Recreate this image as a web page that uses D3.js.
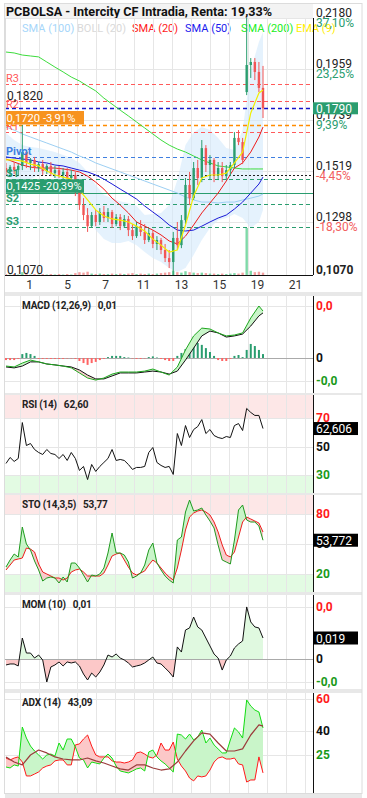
<!DOCTYPE html>
<html>
<head>
<meta charset="utf-8">
<script src="https://cdn.jsdelivr.net/npm/d3@7"></script>
<style>
  body { margin: 0; background: #fff; }
  svg { display: block; font-family: Roboto, "DejaVu Sans", sans-serif; }
</style>
</head>
<body>
<svg id="chart" width="367" height="798"></svg>
<script>
// =============================================================================
// DATA
// =============================================================================

const dayTicks = ['1', '5', '7', '11', '13', '15', '19', '21'];

// intraday candles [open, high, low, close]
const ohlc = [
  [0.1532,0.1554,0.1502,0.1515],[0.1515,0.1545,0.1497,0.1537],[0.1537,0.1558,0.1506,0.1523],
  [0.1523,0.1549,0.1497,0.1541],[0.1541,0.1718,0.1523,0.1601],[0.1601,0.1610,0.1532,0.1554],
  [0.1554,0.1575,0.1523,0.1567],[0.1567,0.1580,0.1515,0.1532],[0.1532,0.1558,0.1515,0.1549],
  [0.1549,0.1567,0.1502,0.1519],[0.1519,0.1549,0.1506,0.1541],[0.1541,0.1558,0.1497,0.1510],
  [0.1510,0.1541,0.1489,0.1523],[0.1523,0.1541,0.1489,0.1502],[0.1502,0.1532,0.1480,0.1515],
  [0.1515,0.1532,0.1471,0.1489],[0.1489,0.1523,0.1471,0.1502],[0.1502,0.1515,0.1411,0.1428],
  [0.1428,0.1446,0.1351,0.1372],[0.1372,0.1402,0.1307,0.1329],[0.1329,0.1359,0.1256,0.1281],
  [0.1281,0.1342,0.1273,0.1329],[0.1329,0.1351,0.1281,0.1299],[0.1299,0.1359,0.1286,0.1342],
  [0.1342,0.1368,0.1299,0.1316],[0.1316,0.1359,0.1299,0.1342],[0.1342,0.1351,0.1273,0.1290],
  [0.1290,0.1333,0.1281,0.1320],[0.1320,0.1333,0.1264,0.1281],[0.1281,0.1329,0.1273,0.1312],
  [0.1312,0.1325,0.1238,0.1264],[0.1264,0.1290,0.1221,0.1238],[0.1238,0.1299,0.1230,0.1281],
  [0.1281,0.1307,0.1238,0.1256],[0.1256,0.1290,0.1204,0.1221],[0.1221,0.1273,0.1212,0.1251],
  [0.1251,0.1264,0.1186,0.1204],[0.1204,0.1238,0.1178,0.1221],[0.1221,0.1230,0.1160,0.1178],
  [0.1178,0.1204,0.1126,0.1143],[0.1143,0.1178,0.1100,0.1126],[0.1126,0.1256,0.1070,0.1230],
  [0.1230,0.1299,0.1178,0.1199],[0.1199,0.1329,0.1186,0.1307],[0.1307,0.1489,0.1290,0.1459],
  [0.1459,0.1515,0.1372,0.1402],[0.1402,0.1558,0.1394,0.1532],[0.1532,0.1567,0.1459,0.1489],
  [0.1489,0.1653,0.1471,0.1618],[0.1618,0.1631,0.1515,0.1545],[0.1545,0.1588,0.1480,0.1567],
  [0.1567,0.1575,0.1471,0.1502],[0.1502,0.1558,0.1480,0.1532],[0.1532,0.1558,0.1471,0.1497],
  [0.1497,0.1545,0.1480,0.1523],[0.1523,0.1558,0.1497,0.1545],[0.1545,0.1687,0.1532,0.1662],
  [0.1662,0.1696,0.1631,0.1644],[0.1644,0.1662,0.1549,0.1567],[0.1860,0.2180,0.1847,0.1977],
  [0.1977,0.2007,0.1921,0.1990],[0.1990,0.2007,0.1912,0.1947],[0.1947,0.1990,0.1860,0.1878],
  [0.1878,0.1973,0.1748,0.1790]
];

const volume = [2,1,2,1,6,2,1,2,1,2,1,2,1,2,1,2,1,4,6,5,7,3,2,3,2,2,3,2,3,2,3,4,
  2,3,2,3,2,3,4,5,6,9,6,5,8,6,5,4,5,4,3,3,2,3,2,3,4,3,5,100,9,6,7,5];

// moving averages, sampled every second bar plus the last one
const sma200 = [0.2033,0.2029,0.2020,0.2016,0.2012,0.1990,0.1968,0.1947,0.1925,0.1908,0.1886,
  0.1865,0.1834,0.1808,0.1782,0.1757,0.1731,0.1705,0.1679,0.1653,0.1631,0.1614,0.1601,0.1584,
  0.1567,0.1554,0.1541,0.1537,0.1532,0.1528,0.1528,0.1528,0.1528];
const sma100 = [0.1709,0.1696,0.1679,0.1666,0.1653,0.1640,0.1627,0.1614,0.1601,0.1584,0.1571,
  0.1554,0.1541,0.1528,0.1515,0.1502,0.1489,0.1476,0.1463,0.1450,0.1437,0.1424,0.1407,0.1394,
  0.1385,0.1385,0.1381,0.1385,0.1385,0.1394,0.1402,0.1411,0.1420];
const sma50 = [0.1580,0.1575,0.1571,0.1567,0.1558,0.1554,0.1545,0.1541,0.1532,0.1523,0.1515,
  0.1502,0.1484,0.1463,0.1441,0.1420,0.1398,0.1368,0.1342,0.1316,0.1286,0.1264,0.1260,0.1264,
  0.1281,0.1299,0.1316,0.1329,0.1355,0.1385,0.1424,0.1463,0.1493];
const sma20 = [0.1571,0.1558,0.1545,0.1536,0.1532,0.1532,0.1532,0.1528,0.1523,0.1515,0.1497,
  0.1471,0.1441,0.1402,0.1372,0.1338,0.1299,0.1281,0.1264,0.1243,0.1217,0.1204,0.1238,0.1286,
  0.1338,0.1381,0.1424,0.1476,0.1532,0.1554,0.1601,0.1666,0.1709];
const ema9 = [0.1567,0.1567,0.1562,0.1549,0.1541,0.1519,0.1502,0.1493,0.1484,0.1437,0.1394,
  0.1351,0.1325,0.1312,0.1307,0.1299,0.1281,0.1260,0.1225,0.1199,0.1169,0.1178,0.1286,0.1411,
  0.1489,0.1502,0.1502,0.1510,0.1554,0.1601,0.1770,0.1856,0.1869];
const bollUp = [0.1683,0.1653,0.1631,0.1623,0.1618,0.1610,0.1601,0.1588,0.1575,0.1554,0.1515,
  0.1459,0.1415,0.1402,0.1389,0.1381,0.1368,0.1329,0.1333,0.1338,0.1372,0.1480,0.1631,0.1687,
  0.1709,0.1696,0.1662,0.1618,0.1610,0.1696,0.1955,0.2076,0.2120];
const bollLow = [0.1493,0.1480,0.1480,0.1484,0.1502,0.1510,0.1489,0.1467,0.1437,0.1402,0.1329,
  0.1264,0.1225,0.1208,0.1208,0.1217,0.1199,0.1169,0.1143,0.1126,0.1100,0.1083,0.1100,0.1156,
  0.1221,0.1273,0.1307,0.1316,0.1333,0.1316,0.1273,0.1299,0.1351];

// price axis
const priceTicks = [0.2180, 0.1959, 0.1739, 0.1519, 0.1298, 0.1070];
const priceTickPct = ['37,10%', '23,25%', '9,39%', '-4,45%', '-18,30%', ''];
const lastPrice = 0.1790;
const rangeMarks = [0.1820, 0.1070];
const levelNames = ['R3', 'R2', 'R1', 'Pivot', 'S1', 'S2', 'S3'];
const levelValues = [0.1895, 0.1821, 0.1689, 0.1580, 0.1483, 0.1377, 0.1277];
const refLine = 0.1503;
const boxValues = [0.1720, 0.1425];
const boxPct = ['-3,91%', '-20,39%'];

const legendNames = ['SMA (100)', 'BOLL (20)', 'SMA (20)', 'SMA (50)', 'SMA (200)', 'EMA (9)'];

// indicators
const indTitles = ['MACD (12,26,9)', 'RSI (14)', 'STO (14,3,5)', 'MOM (10)', 'ADX (14)'];
const indValues = ['0,01', '62,60', '53,77', '0,01', '43,09'];

const macdLine = [-0.0035,-0.0039,-0.0022,-0.0009,-0.0017,-0.0026,-0.0030,-0.0035,-0.0043,-0.0065,
  -0.0087,-0.0096,-0.0087,-0.0070,-0.0061,-0.0061,-0.0061,-0.0057,-0.0048,-0.0061,-0.0074,-0.0039,
  0.0035,0.0096,0.0130,0.0126,0.0109,0.0096,0.0100,0.0109,0.0174,0.0226,0.0204];
const macdSignal = [-0.0039,-0.0043,-0.0035,-0.0017,-0.0017,-0.0026,-0.0030,-0.0035,-0.0039,-0.0052,
  -0.0074,-0.0091,-0.0091,-0.0078,-0.0065,-0.0065,-0.0065,-0.0061,-0.0057,-0.0061,-0.0070,-0.0057,
  -0.0009,0.0043,0.0096,0.0117,0.0109,0.0091,0.0096,0.0104,0.0139,0.0183,0.0196];
const macdHist = [-0.0009,-0.0009,-0.0009,-0.0004,0.0017,0.0022,0.0017,0.0009,-0.0004,-0.0004,
  -0.0004,-0.0004,-0.0004,-0.0004,-0.0004,-0.0002,-0.0002,-0.0004,-0.0013,-0.0022,-0.0030,-0.0022,
  -0.0017,-0.0009,-0.0004,0.0004,0.0009,0.0009,0.0009,0.0004,0.0002,-0.0002,-0.0004,-0.0004,
  -0.0002,0.0004,0.0007,0.0002,-0.0004,-0.0009,-0.0013,-0.0013,0.0009,0.0022,0.0039,0.0052,
  0.0061,0.0065,0.0057,0.0043,0.0026,0.0009,-0.0009,-0.0013,-0.0013,-0.0004,0.0009,0.0013,
  0.0004,0.0035,0.0061,0.0052,0.0035,0.0017];
const macdTicks = [0.0226, 0, -0.0100];
const macdTickLabels = ['0,0', '0', '-0,0'];

const rsi = [38.1,42.3,39.5,41.6,66.8,50.7,52.1,47.9,45.8,44.4,47.9,45.1,44.4,41.6,44.4,40.2,
  45.8,41.6,33.2,36.0,26.8,37.4,32.5,36.0,38.8,41.6,47.9,40.2,40.9,40.2,37.4,33.9,35.3,35.3,
  36.0,45.8,49.3,38.8,36.7,35.3,36.0,30.4,59.1,50.7,64.7,56.3,61.9,64.0,68.9,59.1,61.9,57.7,
  56.3,55.6,57.0,56.3,64.7,66.1,61.2,76.7,73.9,71.8,71.8,62.606];
const rsiTicks = [70, 50, 30];

const stoK = [27,34,40,37,67,50,44,33,24,13,16,17,16,11,17,12,31,31,26,19,12,19,18,20,26,41,
  61,41,41,39,32,16,18,21,29,44,51,31,24,18,14,11,54,57,82,94,83,84,86,79,73,66,49,34,32,30,
  54,84,89,74,72,72,68,53.772];
const stoD = [24,29,34,35,36,46,45,42,30,22,20,18,16,16,14,16,22,24,25,22,18,18,18,18,21,29,
  38,40,41,34,27,21,19,21,23,29,34,31,26,21,17,14,26,44,64,77,81,83,84,82,79,72,62,49,39,37,
  42,57,72,77,75,73,71,62];
const stoTicks = [80, 50, 20];

const mom = [-0.0054,-0.0045,-0.0045,-0.0063,0.0190,0.0054,0.0054,0.0009,0.0036,-0.0009,
  -0.0208,-0.0072,-0.0054,-0.0027,-0.0063,-0.0027,-0.0036,-0.0027,-0.0063,-0.0136,-0.0190,
  -0.0127,-0.0163,-0.0118,-0.0054,0.0036,0.0018,0.0045,0.0009,-0.0009,-0.0036,-0.0072,-0.0063,
  -0.0054,-0.0036,-0.0009,0.0018,-0.0036,-0.0045,-0.0081,-0.0118,-0.0163,0.0109,0.0063,0.0262,
  0.0281,0.0380,0.0290,0.0262,0.0190,0.0118,0.0045,0.0009,-0.0100,-0.0009,0.0027,0.0100,0.0136,
  0.0163,0.0471,0.0335,0.0290,0.0281,0.0190];
const momTicks = [0.047, 0, -0.021];
const momTickLabels = ['0,0', '0', '-0,0'];

const diPlus = [17.5,16.9,18.8,18.1,42.5,35.6,30.6,27.5,25.0,22.5,25.0,25.6,24.4,32.5,28.1,35.0,
  35.0,30.0,23.1,21.9,16.9,20.6,20.0,19.4,23.1,25.6,23.1,18.1,15.0,14.4,13.8,15.0,16.3,16.9,
  15.0,26.9,28.1,23.8,21.3,19.4,16.9,14.4,38.1,37.5,35.0,38.1,34.4,36.3,40.6,32.5,35.6,31.3,
  28.8,26.3,26.3,34.4,41.9,39.4,35.6,59.4,55.6,53.1,51.9,41.9];
const diMinus = [23.1,21.9,23.1,23.8,20.6,11.9,11.9,13.1,14.4,16.9,18.1,18.8,21.3,21.9,21.9,18.8,
  18.8,31.3,31.9,35.0,37.5,30.6,25.0,23.8,23.8,23.8,21.3,20.6,20.6,20.0,20.6,21.9,26.3,26.9,
  25.6,23.8,23.1,25.0,32.5,28.1,28.1,33.1,22.5,18.1,15.0,10.6,8.8,11.9,11.3,11.9,15.6,20.6,
  23.1,23.8,22.5,22.5,23.1,19.4,18.8,8.1,9.4,9.4,23.8,13.8];
const adx = [23.8,20.6,18.8,25.0,28.1,26.3,23.8,22.5,21.9,21.9,23.1,21.3,20.0,18.1,16.3,15.6,
  18.8,18.8,16.9,15.6,16.3,20.6,27.5,33.8,38.8,38.1,32.5,27.5,27.5,28.8,37.5,43.8,43.09];
const adxTicks = [60, 40, 25];

// =============================================================================
// LAYOUT
// =============================================================================

const PLOT_L = 5;
const PLOT_R = 313;
const FRAME_R = 362;
const MAIN_TOP = 4;
const MAIN_BOTTOM = 275;

const GREEN = '#2a9d6f';
const RED = '#f25555';
const GRID = '#e6e6e6';

const PANELS = [
  { top: 296, bottom: 393 },
  { top: 395, bottom: 493 },
  { top: 495, bottom: 592 },
  { top: 595, bottom: 689 },
  { top: 693, bottom: 793 }
];

const fmt = (v, d) => d3.format(`.${d}f`)(v).replace('.', ',');

const svg = d3.select('#chart');
const defs = svg.append('defs');

// bar index -> x, trading day -> x
const barIdx = d3.range(ohlc.length);
const maIdx = [...d3.range(0, ohlc.length, 2), ohlc.length - 1];
const xBar = d3.scaleLinear().domain([0, ohlc.length - 1]).range([6, 263]);
const xDay = d3.scaleLinear().domain([0, 16]).range([1, 305]);

const yPrice = d3.scaleLinear().domain([0.1070, 0.2180]).range([MAIN_BOTTOM, 18]);
const yVol = d3.scaleLinear().domain([0, 100]).range([MAIN_BOTTOM, 228]);

// =============================================================================
// HELPERS
// =============================================================================

function clipRect(id, x, y, w, h) {
  defs.append('clipPath').attr('id', id)
    .append('rect').attr('x', x).attr('y', y).attr('width', w).attr('height', h);
}

function vGrid(g, top, bottom) {
  g.selectAll('line.vg').data(d3.range(1, 17)).join('line')
    .attr('class', 'vg')
    .attr('x1', d => Math.round(xDay(d)) + 0.5).attr('x2', d => Math.round(xDay(d)) + 0.5)
    .attr('y1', top).attr('y2', bottom)
    .attr('stroke', GRID);
}

function hLine(g, y, color, dash, width) {
  g.append('line')
    .attr('x1', PLOT_L).attr('x2', PLOT_R)
    .attr('y1', Math.round(y) + 0.5).attr('y2', Math.round(y) + 0.5)
    .attr('stroke', color).attr('stroke-width', width || 1)
    .attr('stroke-dasharray', dash || null);
}

function linePath(g, idx, values, y, color, width) {
  const line = d3.line().x((d, i) => xBar(idx[i])).y(d => y(d));
  g.append('path').attr('d', line(values))
    .attr('fill', 'none').attr('stroke', color).attr('stroke-width', width || 1)
    .attr('stroke-linejoin', 'round');
}

// fill between series a and b, one colour where a > b, another where a < b
function fillBetween(g, id, idx, a, b, y, colUp, colDown, top, bottom) {
  const pts = idx.map((t, i) => ({ x: xBar(t), a: y(a[i]), b: y(b[i]) }));
  defs.append('clipPath').attr('id', id + '-up').append('path')
    .attr('d', d3.area().x(d => d.x).y0(top).y1(d => d.b)(pts));
  defs.append('clipPath').attr('id', id + '-dn').append('path')
    .attr('d', d3.area().x(d => d.x).y0(bottom).y1(d => d.b)(pts));
  const band = d3.area().x(d => d.x).y0(d => d.b).y1(d => d.a)(pts);
  g.append('path').attr('d', band).attr('fill', colUp).attr('clip-path', `url(#${id}-up)`);
  g.append('path').attr('d', band).attr('fill', colDown).attr('clip-path', `url(#${id}-dn)`);
}

function rightTicks(g, ticks, labels, y, colors) {
  ticks.forEach((t, i) => {
    g.append('text')
      .attr('x', PLOT_R + 3).attr('y', y(t) + 4)
      .attr('font-size', 12).attr('font-weight', 'bold')
      .attr('fill', colors[i])
      .text(labels[i]);
  });
}

function valueBox(g, v, y, label) {
  const cy = y(v);
  g.append('rect').attr('x', PLOT_R).attr('y', cy - 6.5).attr('width', 45).attr('height', 13)
    .attr('fill', '#000');
  g.append('text').attr('x', PLOT_R + 3).attr('y', cy + 4.5)
    .attr('font-size', 12).attr('fill', '#fff').text(label);
}

function panelTitle(g, top, i) {
  const t = g.append('text').attr('x', 22).attr('y', top + 13)
    .attr('font-size', 10).attr('font-weight', 'bold').attr('fill', '#222')
    .attr('letter-spacing', -0.2)
    .text(indTitles[i]);
  const w = t.node().getComputedTextLength();
  g.append('text').attr('x', 22 + w + 7).attr('y', top + 13)
    .attr('font-size', 10).attr('font-weight', 'bold').attr('fill', '#222')
    .attr('letter-spacing', -0.2)
    .text(indValues[i]);
}

// =============================================================================
// FRAME, TITLE, LEGEND
// =============================================================================

svg.append('rect').attr('x', 0).attr('y', 0).attr('width', 367).attr('height', 798).attr('fill', '#fff');

// separators between panels
[[MAIN_BOTTOM + 17, 296], [393, 395], [493, 495], [592, 595], [689, 693], [793, 798]].forEach(([a, b]) => {
  svg.append('rect').attr('x', PLOT_L).attr('y', a).attr('width', FRAME_R - PLOT_L).attr('height', b - a)
    .attr('fill', '#e8e8e8');
});

svg.append('rect').attr('x', PLOT_L).attr('y', 4).attr('width', PLOT_R - PLOT_L).attr('height', 15)
  .attr('fill', '#f3f3f3');

svg.append('text').attr('x', 6).attr('y', 16)
  .attr('font-size', 12.6).attr('font-weight', 'bold').attr('fill', '#111')
  .text('PCBOLSA - Intercity CF Intradia, Renta: 19,33%');

const legendColors = ['#a6d6fa', '#d9d9d9', '#ff1a1a', '#1a1aee', '#22ee22', '#ffee00'];
const legendX = [22, 77, 132, 185, 241, 296];
legendNames.forEach((n, i) => {
  svg.append('text').attr('x', legendX[i]).attr('y', 32)
    .attr('font-size', 11).attr('fill', legendColors[i]).text(n);
});

// =============================================================================
// MAIN PRICE CHART
// =============================================================================

clipRect('clip-main', PLOT_L, MAIN_TOP, PLOT_R - PLOT_L, MAIN_BOTTOM - MAIN_TOP);
const gMain = svg.append('g').attr('clip-path', 'url(#clip-main)');

vGrid(gMain, 18, MAIN_BOTTOM);
priceTicks.slice(0, -1).forEach(p => hLine(gMain, yPrice(p), GRID));

// bollinger band
gMain.append('path')
  .attr('d', d3.area().x((d, i) => xBar(maIdx[i])).y0((d, i) => yPrice(bollLow[i])).y1(d => yPrice(d))(bollUp))
  .attr('fill', '#d3eafb').attr('opacity', 0.6);

// volume
gMain.selectAll('rect.vol').data(volume).join('rect')
  .attr('class', 'vol')
  .attr('x', (d, i) => xBar(i) - 1.2).attr('width', 2.4)
  .attr('y', d => yVol(d)).attr('height', d => MAIN_BOTTOM - yVol(d))
  .attr('fill', (d, i) => ohlc[i][3] >= ohlc[i][0] ? '#7fd9a8' : '#f5a0a0');

// levels
levelNames.forEach((n, i) => {
  const c = n[0] === 'R' ? '#ff5a5a' : n[0] === 'P' ? '#3f7fe0' : '#2a9d6f';
  hLine(gMain, yPrice(levelValues[i]), c, '4,3');
});
hLine(gMain, yPrice(lastPrice), '#1414c8', '4,3', 1.3);
hLine(gMain, yPrice(boxValues[0]), '#ff8c00', '4,3', 1.3);
hLine(gMain, yPrice(refLine), '#222', '2,2');
hLine(gMain, yPrice(boxValues[1]), '#2a9d6f', null, 1.2);

// moving averages
linePath(gMain, maIdx, sma200, yPrice, '#3ddc3d', 1);
linePath(gMain, maIdx, sma100, yPrice, '#9ccff3', 1);
linePath(gMain, maIdx, sma50, yPrice, '#1a1ad6', 1);
linePath(gMain, maIdx, sma20, yPrice, '#ee1c1c', 1);

// candles
const bodyW = 2.4;
gMain.selectAll('line.wick').data(ohlc).join('line')
  .attr('class', 'wick')
  .attr('x1', (d, i) => xBar(i)).attr('x2', (d, i) => xBar(i))
  .attr('y1', d => yPrice(d[1])).attr('y2', d => yPrice(d[2]))
  .attr('stroke', d => d[3] >= d[0] ? GREEN : RED).attr('stroke-width', 1);
gMain.selectAll('rect.body').data(ohlc).join('rect')
  .attr('class', 'body')
  .attr('x', (d, i) => xBar(i) - bodyW / 2).attr('width', bodyW)
  .attr('y', d => yPrice(Math.max(d[0], d[3])))
  .attr('height', d => Math.max(1, Math.abs(yPrice(d[0]) - yPrice(d[3]))))
  .attr('fill', d => d[3] >= d[0] ? GREEN : RED);

linePath(gMain, maIdx, ema9, yPrice, '#f2ee00', 1.2);

// level labels on the left
const taken = [yPrice(rangeMarks[0]) - 1];
levelNames.forEach((n, i) => {
  const y = yPrice(levelValues[i]);
  let base = y - 2;
  if (taken.some(t => Math.abs(t - base) < 9)) base = y + 7;
  taken.push(base);
  const c = n[0] === 'R' ? '#ff5a5a' : n[0] === 'P' ? '#3f7fe0' : '#2a9d6f';
  gMain.append('text').attr('x', PLOT_L + 1).attr('y', base)
    .attr('font-size', 11).attr('font-weight', n[0] === 'R' ? 'normal' : 'bold')
    .attr('fill', c).text(n);
});

rangeMarks.forEach(v => {
  gMain.append('text').attr('x', 7).attr('y', yPrice(v) - 1)
    .attr('font-size', 12).attr('fill', '#222').text(fmt(v, 4));
});

// boxes with value and change
const boxColors = ['#f7931e', '#2a9d6f'];
boxValues.forEach((v, i) => {
  const y = yPrice(v);
  gMain.append('rect').attr('x', PLOT_L).attr('y', y - 13.5).attr('width', 79).attr('height', 13.5)
    .attr('fill', boxColors[i]);
  gMain.append('text').attr('x', PLOT_L + 1.5).attr('y', y - 2.8)
    .attr('font-size', 11.2).attr('fill', '#fff').text(fmt(v, 4));
  gMain.append('text').attr('x', PLOT_L + 38).attr('y', y - 2.8)
    .attr('font-size', 11.2).attr('fill', '#fff').text(boxPct[i]);
});

// axes lines
svg.append('line').attr('x1', PLOT_L).attr('x2', PLOT_R)
  .attr('y1', MAIN_BOTTOM + 0.5).attr('y2', MAIN_BOTTOM + 0.5).attr('stroke', '#111');
svg.append('line').attr('x1', PLOT_R + 0.5).attr('x2', PLOT_R + 0.5)
  .attr('y1', 18).attr('y2', MAIN_BOTTOM).attr('stroke', '#111');
svg.append('line').attr('x1', PLOT_L + 0.5).attr('x2', PLOT_L + 0.5)
  .attr('y1', 18).attr('y2', MAIN_BOTTOM).attr('stroke', '#ddd');

// right price labels
priceTicks.forEach((p, i) => {
  const y = yPrice(p);
  const last = i === priceTicks.length - 1;
  svg.append('text').attr('x', PLOT_R + 3).attr('y', y - 1)
    .attr('font-size', 12).attr('font-weight', last ? 'bold' : 'normal')
    .attr('fill', '#222').text(fmt(p, 4));
  if (priceTickPct[i]) {
    svg.append('text').attr('x', PLOT_R + 3).attr('y', y + 9)
      .attr('font-size', 12).attr('fill', priceTickPct[i][0] === '-' ? '#f26060' : '#2a9d6f')
      .text(priceTickPct[i]);
  }
});
svg.append('rect').attr('x', PLOT_R).attr('y', yPrice(lastPrice) - 6).attr('width', 45).attr('height', 12)
  .attr('fill', '#2a9d6f');
svg.append('text').attr('x', PLOT_R + 3).attr('y', yPrice(lastPrice) + 4.5)
  .attr('font-size', 12).attr('fill', '#fff').text(fmt(lastPrice, 4));

// x axis day labels
dayTicks.forEach((d, i) => {
  svg.append('text').attr('x', xDay(i * 2 + 1.5)).attr('y', MAIN_BOTTOM + 14)
    .attr('text-anchor', 'middle').attr('font-size', 12).attr('fill', '#333').text(d);
});

// =============================================================================
// INDICATOR PANELS
// =============================================================================

function panelBase(p, id) {
  clipRect(id, PLOT_L, p.top, PLOT_R - PLOT_L, p.bottom - p.top);
  const g = svg.append('g').attr('clip-path', `url(#${id})`);
  svg.append('line').attr('x1', PLOT_R + 0.5).attr('x2', PLOT_R + 0.5)
    .attr('y1', p.top).attr('y2', p.bottom).attr('stroke', '#111');
  return g;
}

function bands(g, p, y, hi, lo) {
  g.append('rect').attr('x', PLOT_L).attr('y', p.top).attr('width', PLOT_R - PLOT_L)
    .attr('height', y(hi) - p.top).attr('fill', '#fde7e7');
  g.append('rect').attr('x', PLOT_L).attr('y', y(lo)).attr('width', PLOT_R - PLOT_L)
    .attr('height', p.bottom - y(lo)).attr('fill', '#e3fbe3');
}

const tickColors = ['#ff1a1a', '#111', '#1a9a1a'];

// ---- MACD ----
{
  const p = PANELS[0];
  const y = d3.scaleLinear().domain([-0.0100, 0.0226]).range([381, 306]);
  const g = panelBase(p, 'clip-macd');
  vGrid(g, p.top, p.bottom);
  macdTicks.forEach(t => hLine(g, y(t), t === 0 ? '#aaa' : GRID));
  g.selectAll('rect.h').data(macdHist).join('rect')
    .attr('x', (d, i) => xBar(i) - 1).attr('width', 2)
    .attr('y', d => Math.min(y(d), y(0))).attr('height', d => Math.abs(y(d) - y(0)))
    .attr('fill', d => d >= 0 ? '#2a9d6f' : '#ff6464');
  fillBetween(g, 'macd', maIdx, macdLine, macdSignal, y, '#c9f5c9', '#f7cccc', p.top, p.bottom);
  linePath(g, maIdx, macdSignal, y, '#111', 1);
  linePath(g, maIdx, macdLine, y, '#1fa61f', 1);
  panelTitle(svg, p.top, 0);
  rightTicks(svg, macdTicks, macdTickLabels, y, tickColors);
}

// ---- RSI ----
{
  const p = PANELS[1];
  const y = d3.scaleLinear().domain([30, 70]).range([475, 418]);
  const g = panelBase(p, 'clip-rsi');
  bands(g, p, y, 70, 30);
  vGrid(g, p.top, p.bottom);
  rsiTicks.forEach(t => hLine(g, y(t), GRID));
  linePath(g, barIdx, rsi, y, '#111', 1);
  panelTitle(svg, p.top, 1);
  rightTicks(svg, rsiTicks, rsiTicks.map(String), y, tickColors);
  valueBox(svg, rsi[rsi.length - 1], y, fmt(rsi[rsi.length - 1], 3));
}

// ---- STO ----
{
  const p = PANELS[2];
  const y = d3.scaleLinear().domain([20, 80]).range([574, 514]);
  const g = panelBase(p, 'clip-sto');
  bands(g, p, y, 80, 20);
  vGrid(g, p.top, p.bottom);
  stoTicks.forEach(t => hLine(g, y(t), GRID));
  fillBetween(g, 'sto', barIdx, stoK, stoD, y, '#c9f5c9', '#f7cccc', p.top, p.bottom);
  linePath(g, barIdx, stoD, y, '#ee1c1c', 1);
  linePath(g, barIdx, stoK, y, '#1f9a1f', 1);
  panelTitle(svg, p.top, 2);
  rightTicks(svg, stoTicks, stoTicks.map(String), y, tickColors);
  valueBox(svg, stoK[stoK.length - 1], y, fmt(stoK[stoK.length - 1], 3));
}

// ---- MOM ----
{
  const p = PANELS[3];
  const y = d3.scaleLinear().domain([0, 0.019]).range([659, 638]);
  const g = panelBase(p, 'clip-mom');
  vGrid(g, p.top, p.bottom);
  momTicks.forEach(t => hLine(g, y(t), GRID));
  const zero = mom.map(() => 0);
  fillBetween(g, 'mom', barIdx, mom, zero, y, '#e0f9e0', '#fcc8c8', p.top, p.bottom);
  hLine(g, y(0), '#aaa');
  linePath(g, barIdx, mom, y, '#111', 1);
  panelTitle(svg, p.top, 3);
  rightTicks(svg, momTicks, momTickLabels, y, tickColors);
  valueBox(svg, mom[mom.length - 1], y, fmt(mom[mom.length - 1], 3));
}

// ---- ADX ----
{
  const p = PANELS[4];
  const y = d3.scaleLinear().domain([25, 60]).range([755, 699]);
  const g = panelBase(p, 'clip-adx');
  vGrid(g, p.top, p.bottom);
  adxTicks.forEach(t => hLine(g, y(t), GRID));
  fillBetween(g, 'adx', barIdx, diPlus, diMinus, y, '#c9f5c9', '#fcc8c8', p.top, p.bottom);
  linePath(g, barIdx, diMinus, y, '#ff1a1a', 1);
  linePath(g, barIdx, diPlus, y, '#11dd11', 1);
  linePath(g, maIdx, adx, y, '#9b3b3b', 1.2);
  panelTitle(svg, p.top, 4);
  rightTicks(svg, adxTicks, adxTicks.map(String), y, tickColors);
}

// outer frame
svg.append('rect').attr('x', PLOT_L - 0.5).attr('y', 3.5).attr('width', FRAME_R - PLOT_L + 0.5).attr('height', 790)
  .attr('fill', 'none').attr('stroke', '#dcdcdc');
</script>
</body>
</html>
